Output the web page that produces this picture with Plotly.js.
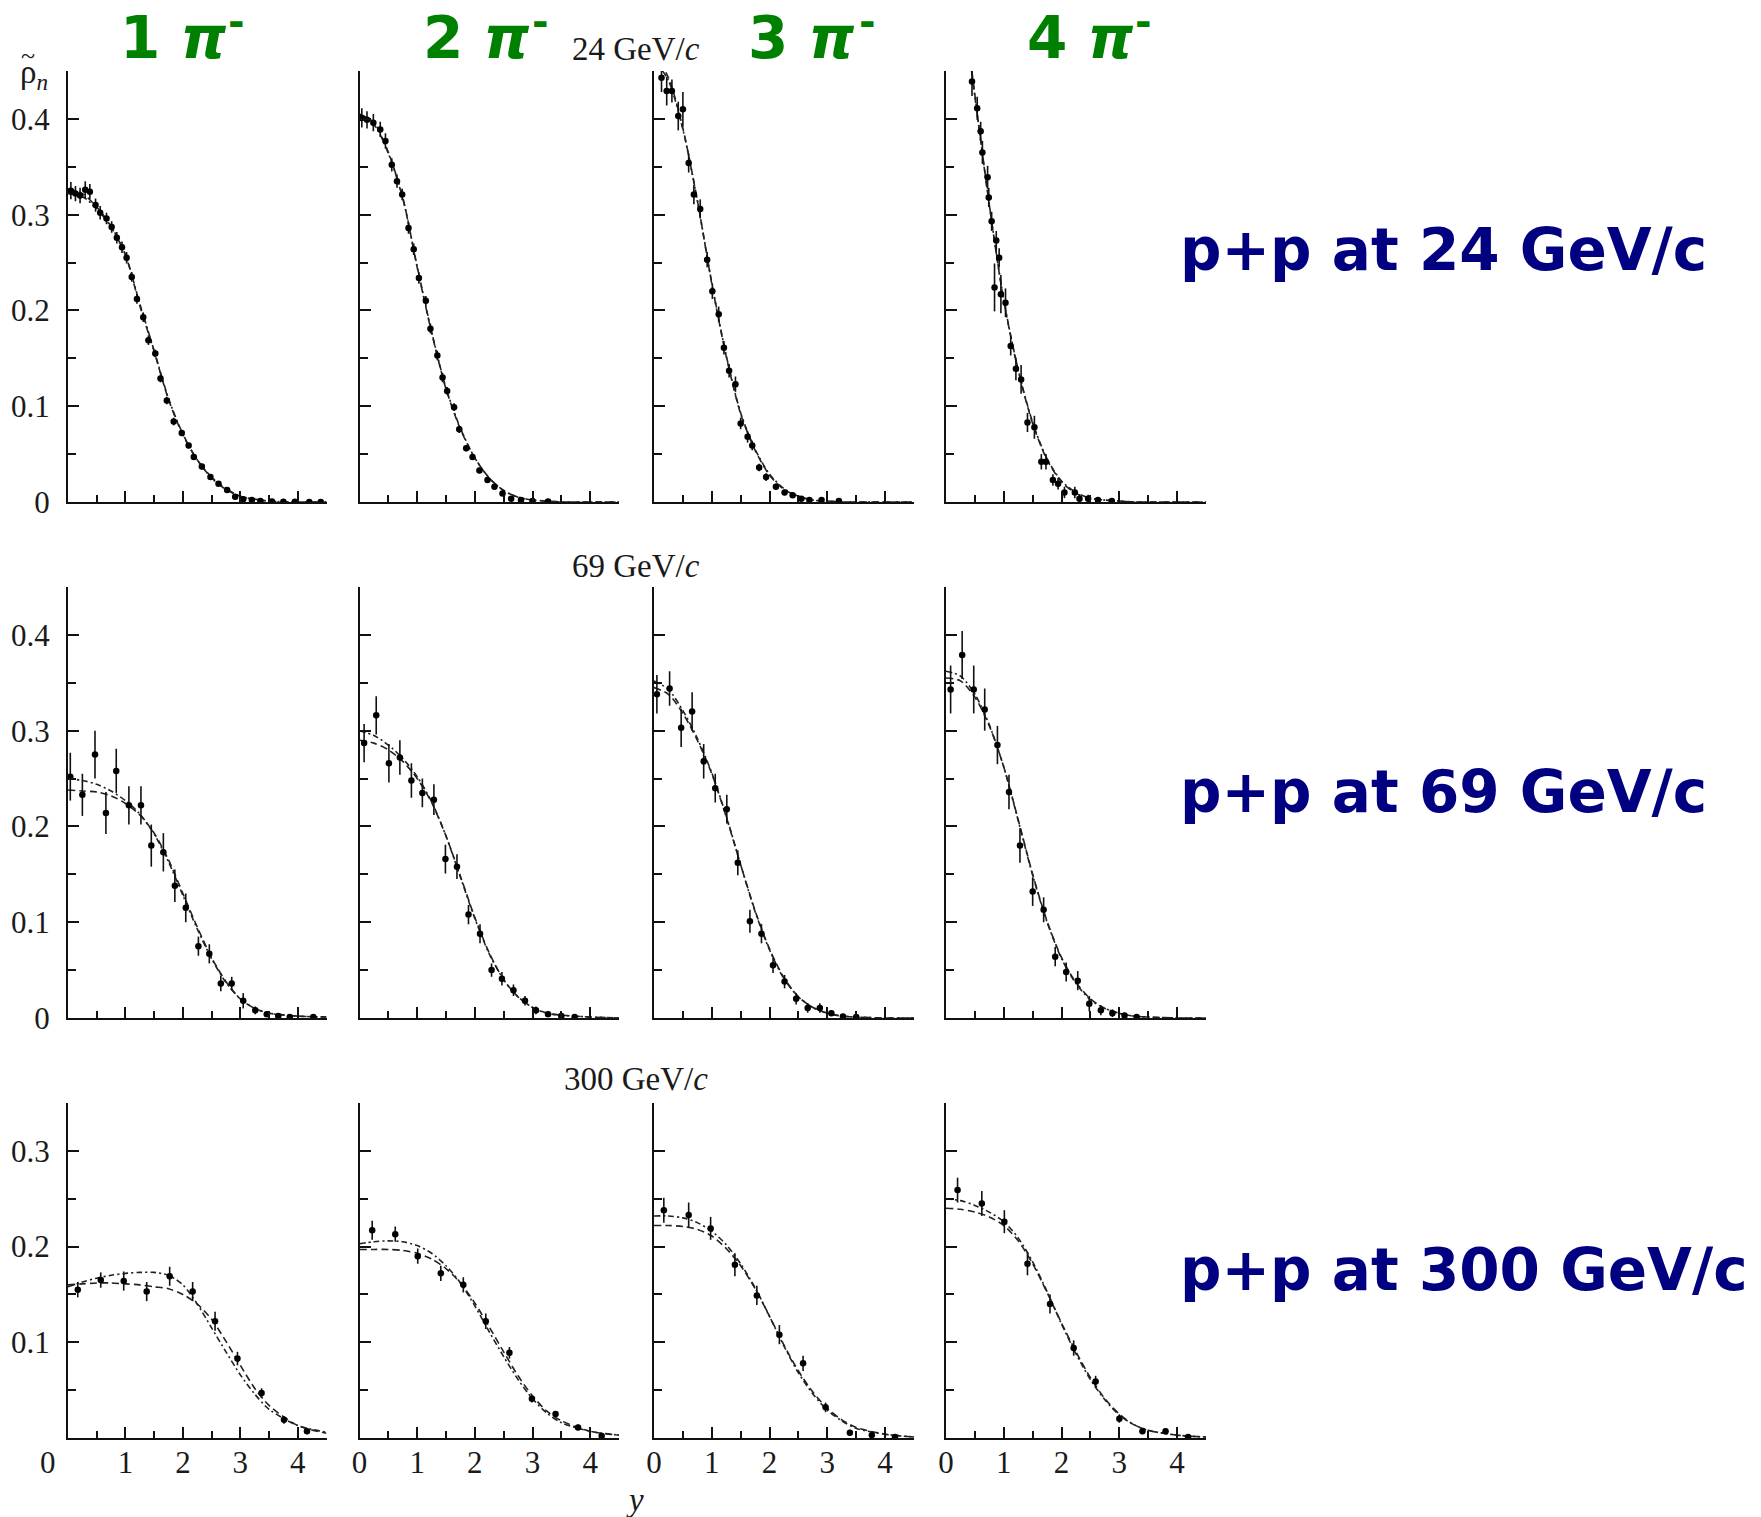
<!DOCTYPE html>
<html>
<head>
<meta charset="utf-8">
<script src="https://cdn.plot.ly/plotly-3.0.1.min.js"></script>
<style>html,body{margin:0;padding:0;background:#fff;} #chart{width:1761px;height:1517px;}</style>
</head>
<body>
<div id="chart"></div>
<script>
// ---------------- DATA ----------------
const columnLabels = ["1", "2", "3", "4"];
const beamLabels = ["24", "69", "300"];
const xTickVals = [0, 1, 2, 3, 4];
const xTickValsFirst = [1, 2, 3, 4];
const xMinorVals = [0.5, 1.5, 2.5, 3.5, 4.5];
const yTickVals = [0, 0.1, 0.2, 0.3, 0.4];
const yTickValsLow = [0.1, 0.2, 0.3];
const yMinorVals = [0.05, 0.15, 0.25, 0.35, 0.45];
const yMinorValsLow = [0.05, 0.15, 0.25, 0.35];

// model curves sampled on a rapidity grid
const curveX = [0, 0.25, 0.5, 0.75, 1, 1.25, 1.5, 1.75, 2, 2.25, 2.5, 2.75, 3, 3.25, 3.5, 4, 4.5];

// 24 GeV/c
const r1c1X = [0.05,0.13,0.21,0.30,0.38,0.48,0.56,0.67,0.76,0.85,0.94,1.02,1.11,1.20,1.31,1.40,1.52,1.61,1.72,1.84,1.98,2.10,2.19,2.33,2.48,2.62,2.77,2.91,3.05,3.20,3.35,3.55,3.75,3.95,4.20,4.40];
const r1c1Y = [0.325,0.322,0.320,0.326,0.324,0.310,0.302,0.296,0.287,0.276,0.266,0.255,0.235,0.212,0.193,0.169,0.155,0.129,0.106,0.084,0.072,0.059,0.047,0.037,0.026,0.019,0.0125,0.0055,0.003,0.002,0.001,0.0005,0.0003,0.0002,0.0001,0.0001];
const r1c1E = [0.009,0.008,0.008,0.009,0.008,0.007,0.007,0.006,0.006,0.006,0.006,0.006,0.005,0.005,0.005,0.005,0.004,0.004,0.004,0.004,0.003,0.003,0.003,0.003,0.002,0.002,0.002,0.002,0.001,0.001,0.001,0.001,0.001,0.001,0.001,0.001];
const r1c1Dash = [0.327,0.322,0.308,0.288,0.258,0.205,0.157,0.107,0.070,0.044,0.025,0.013,0.006,0.003,0.001,0,0];
const r1c1Dot  = [0.322,0.319,0.306,0.287,0.258,0.207,0.158,0.108,0.071,0.044,0.026,0.014,0.006,0.003,0.001,0,0];

const r1c2X = [0.04,0.13,0.24,0.36,0.45,0.56,0.65,0.74,0.85,0.94,1.03,1.15,1.23,1.35,1.44,1.52,1.64,1.73,1.85,1.96,2.08,2.22,2.34,2.48,2.63,2.80,3.00,3.27];
const r1c2Y = [0.401,0.399,0.396,0.389,0.377,0.352,0.335,0.321,0.286,0.264,0.234,0.210,0.181,0.153,0.130,0.116,0.099,0.076,0.056,0.047,0.033,0.023,0.016,0.009,0.0035,0.002,0.001,0.0005];
const r1c2E = [0.010,0.009,0.009,0.008,0.008,0.007,0.007,0.006,0.006,0.006,0.006,0.005,0.005,0.005,0.005,0.004,0.004,0.004,0.003,0.003,0.003,0.002,0.002,0.002,0.002,0.001,0.001,0.001];
const r1c2Dash = [0.405,0.396,0.365,0.318,0.245,0.177,0.118,0.076,0.046,0.025,0.012,0.005,0.002,0.001,0,0,0];
const r1c2Dot  = [0.402,0.394,0.364,0.317,0.246,0.178,0.119,0.077,0.046,0.025,0.012,0.005,0.002,0.001,0,0,0];

const r1c3X = [0.13,0.22,0.31,0.42,0.50,0.60,0.69,0.80,0.92,1.01,1.12,1.21,1.30,1.41,1.50,1.62,1.70,1.82,1.94,2.11,2.26,2.40,2.55,2.69,2.90,3.20];
const r1c3Y = [0.443,0.429,0.429,0.403,0.410,0.354,0.321,0.306,0.253,0.220,0.196,0.161,0.137,0.123,0.082,0.068,0.059,0.036,0.026,0.016,0.010,0.007,0.0035,0.002,0.002,0.001];
const r1c3E = [0.015,0.015,0.012,0.015,0.018,0.010,0.010,0.010,0.008,0.008,0.008,0.007,0.007,0.008,0.006,0.006,0.005,0.004,0.004,0.003,0.003,0.002,0.002,0.002,0.001,0.001];
const r1c3Dash = [0.468,0.443,0.390,0.315,0.228,0.152,0.092,0.054,0.028,0.013,0.006,0.002,0.001,0,0,0,0];
const r1c3Dot  = [0.462,0.440,0.389,0.315,0.229,0.153,0.093,0.055,0.029,0.014,0.006,0.002,0.001,0,0,0,0];

const r1c4X = [0.45,0.54,0.60,0.63,0.72,0.74,0.79,0.84,0.87,0.92,0.95,1.03,1.12,1.21,1.30,1.41,1.53,1.65,1.73,1.85,1.94,2.05,2.23,2.31,2.46,2.63,2.87];
const r1c4Y = [0.439,0.411,0.387,0.365,0.339,0.318,0.293,0.224,0.273,0.255,0.217,0.208,0.163,0.139,0.128,0.083,0.078,0.042,0.042,0.023,0.019,0.010,0.010,0.0035,0.0035,0.002,0.001];
const r1c4E = [0.015,0.012,0.010,0.012,0.012,0.010,0.010,0.025,0.010,0.010,0.020,0.015,0.010,0.012,0.015,0.010,0.012,0.008,0.008,0.006,0.006,0.006,0.006,0.004,0.004,0.003,0.002];
const r1c4Dash = [0.620,0.540,0.425,0.310,0.210,0.137,0.082,0.044,0.021,0.009,0.004,0.002,0.001,0,0,0,0];
const r1c4Dot  = [0.610,0.535,0.423,0.310,0.211,0.138,0.083,0.045,0.022,0.010,0.004,0.002,0.001,0,0,0,0];

// 69 GeV/c
const r2c1X = [0.04,0.25,0.47,0.66,0.84,1.06,1.27,1.45,1.66,1.86,2.05,2.27,2.46,2.66,2.85,3.05,3.26,3.46,3.66,3.86,4.27];
const r2c1Y = [0.252,0.233,0.275,0.214,0.258,0.222,0.222,0.180,0.173,0.138,0.115,0.075,0.067,0.036,0.036,0.018,0.008,0.004,0.002,0.001,0.001];
const r2c1E = [0.025,0.022,0.025,0.022,0.023,0.020,0.020,0.022,0.020,0.017,0.015,0.010,0.010,0.008,0.007,0.008,0.004,0.003,0.002,0.001,0.001];
const r2c1Dash = [0.238,0.237,0.236,0.232,0.224,0.212,0.193,0.165,0.130,0.095,0.063,0.038,0.020,0.010,0.005,0.002,0.001];
const r2c1Dot  = [0.250,0.248,0.244,0.237,0.227,0.213,0.192,0.163,0.128,0.093,0.062,0.037,0.020,0.010,0.005,0.002,0.001];

const r2c2X = [0.08,0.29,0.51,0.70,0.90,1.09,1.29,1.49,1.69,1.89,2.09,2.29,2.47,2.67,2.87,3.06,3.27,3.50,3.73];
const r2c2Y = [0.287,0.316,0.266,0.272,0.248,0.235,0.228,0.166,0.158,0.108,0.088,0.050,0.041,0.029,0.018,0.008,0.004,0.002,0.001];
const r2c2E = [0.020,0.020,0.020,0.018,0.018,0.015,0.016,0.015,0.013,0.010,0.010,0.007,0.007,0.006,0.005,0.004,0.003,0.002,0.001];
const r2c2Dash = [0.290,0.287,0.280,0.268,0.250,0.225,0.190,0.148,0.105,0.068,0.040,0.022,0.011,0.005,0.003,0.001,0];
const r2c2Dot  = [0.300,0.295,0.285,0.271,0.252,0.226,0.190,0.147,0.104,0.067,0.040,0.022,0.011,0.005,0.003,0.001,0];

const r2c3X = [0.05,0.27,0.47,0.66,0.86,1.06,1.26,1.45,1.66,1.86,2.06,2.26,2.46,2.66,2.87,3.07,3.27,3.50];
const r2c3Y = [0.338,0.344,0.303,0.320,0.268,0.240,0.218,0.162,0.101,0.088,0.055,0.038,0.020,0.0105,0.0105,0.005,0.0015,0.001];
const r2c3E = [0.020,0.018,0.020,0.020,0.018,0.015,0.015,0.013,0.012,0.010,0.008,0.007,0.006,0.005,0.005,0.003,0.002,0.001];
const r2c3Dash = [0.345,0.338,0.318,0.290,0.255,0.210,0.160,0.112,0.072,0.042,0.022,0.011,0.005,0.002,0.001,0,0];
const r2c3Dot  = [0.352,0.343,0.321,0.292,0.256,0.211,0.160,0.111,0.071,0.041,0.022,0.011,0.005,0.002,0.001,0,0];

const r2c4X = [0.08,0.28,0.48,0.67,0.89,1.09,1.28,1.50,1.69,1.89,2.08,2.28,2.48,2.68,2.88,3.09,3.30];
const r2c4Y = [0.343,0.379,0.343,0.322,0.285,0.236,0.180,0.132,0.113,0.064,0.048,0.039,0.015,0.008,0.005,0.0025,0.001];
const r2c4E = [0.025,0.025,0.025,0.022,0.020,0.018,0.018,0.015,0.013,0.010,0.010,0.010,0.008,0.005,0.004,0.003,0.002];
const r2c4Dash = [0.355,0.352,0.335,0.305,0.262,0.207,0.150,0.101,0.063,0.037,0.020,0.010,0.005,0.002,0.001,0,0];
const r2c4Dot  = [0.362,0.357,0.338,0.306,0.262,0.206,0.149,0.100,0.062,0.036,0.019,0.010,0.005,0.002,0.001,0,0];

// 300 GeV/c
const r3c1X = [0.17,0.57,0.97,1.37,1.77,2.17,2.56,2.95,3.37,3.76,4.16];
const r3c1Y = [0.155,0.165,0.164,0.153,0.169,0.153,0.122,0.083,0.047,0.019,0.007];
const r3c1E = [0.008,0.008,0.010,0.010,0.010,0.010,0.010,0.007,0.005,0.004,0.003];
const r3c1Dash = [0.160,0.161,0.162,0.162,0.161,0.160,0.158,0.156,0.150,0.140,0.124,0.101,0.076,0.052,0.034,0.013,0.005];
const r3c1Dot  = [0.158,0.163,0.167,0.170,0.172,0.173,0.173,0.170,0.160,0.140,0.115,0.090,0.066,0.046,0.030,0.013,0.006];

const r3c2X = [0.22,0.62,1.01,1.41,1.80,2.19,2.60,2.99,3.40,3.79,4.20];
const r3c2Y = [0.217,0.213,0.190,0.172,0.160,0.122,0.089,0.041,0.025,0.011,0.002];
const r3c2E = [0.010,0.008,0.008,0.008,0.008,0.008,0.006,0.004,0.003,0.003,0.002];
const r3c2Dash = [0.197,0.197,0.197,0.196,0.193,0.187,0.177,0.162,0.141,0.116,0.090,0.065,0.044,0.028,0.018,0.007,0.003];
const r3c2Dot  = [0.203,0.205,0.206,0.205,0.201,0.193,0.180,0.162,0.138,0.111,0.085,0.061,0.041,0.026,0.016,0.007,0.003];

const r3c3X = [0.17,0.60,0.98,1.40,1.78,2.17,2.58,2.97,3.39,3.77,4.17];
const r3c3Y = [0.238,0.233,0.219,0.181,0.149,0.108,0.078,0.032,0.0055,0.003,0.001];
const r3c3E = [0.013,0.013,0.012,0.012,0.010,0.010,0.008,0.005,0.003,0.002,0.001];
const r3c3Dash = [0.222,0.222,0.221,0.218,0.211,0.198,0.180,0.156,0.127,0.097,0.070,0.048,0.031,0.019,0.011,0.004,0.001];
const r3c3Dot  = [0.232,0.232,0.230,0.225,0.216,0.202,0.182,0.157,0.127,0.096,0.068,0.046,0.029,0.018,0.010,0.004,0.001];

const r3c4X = [0.20,0.62,1.01,1.41,1.80,2.21,2.59,3.00,3.40,3.80,4.19];
const r3c4Y = [0.259,0.245,0.226,0.182,0.140,0.094,0.059,0.020,0.007,0.007,0.001];
const r3c4E = [0.013,0.013,0.012,0.012,0.010,0.008,0.006,0.004,0.003,0.003,0.001];
const r3c4Dash = [0.240,0.239,0.236,0.231,0.222,0.206,0.182,0.152,0.120,0.090,0.063,0.041,0.025,0.014,0.008,0.003,0.001];
const r3c4Dot  = [0.250,0.248,0.243,0.236,0.226,0.209,0.184,0.153,0.119,0.088,0.061,0.040,0.024,0.014,0.008,0.003,0.001];

// ---------------- LAYOUT / BUILD ----------------
const W = 1761, H = 1517;
const colPx = [[68, 326.5], [359.5, 619], [654, 914], [946, 1206]];
const rowPx = [[71, 502], [587, 1018], [1103, 1438]];
const px = v => v / W;
const py = v => 1 - v / H;

const panels = [
  [[r1c1X,r1c1Y,r1c1E,r1c1Dash,r1c1Dot],[r1c2X,r1c2Y,r1c2E,r1c2Dash,r1c2Dot],[r1c3X,r1c3Y,r1c3E,r1c3Dash,r1c3Dot],[r1c4X,r1c4Y,r1c4E,r1c4Dash,r1c4Dot]],
  [[r2c1X,r2c1Y,r2c1E,r2c1Dash,r2c1Dot],[r2c2X,r2c2Y,r2c2E,r2c2Dash,r2c2Dot],[r2c3X,r2c3Y,r2c3E,r2c3Dash,r2c3Dot],[r2c4X,r2c4Y,r2c4E,r2c4Dash,r2c4Dot]],
  [[r3c1X,r3c1Y,r3c1E,r3c1Dash,r3c1Dot],[r3c2X,r3c2Y,r3c2E,r3c2Dash,r3c2Dot],[r3c3X,r3c3Y,r3c3E,r3c3Dash,r3c3Dot],[r3c4X,r3c4Y,r3c4E,r3c4Dash,r3c4Dot]]
];

const serif = "Liberation Serif, Times New Roman, serif";
const tickFont = {family: serif, size: 31, color: "#1a1a1a"};
const traces = [];
const layout = {
  width: W, height: H,
  margin: {l: 0, r: 0, t: 0, b: 0},
  paper_bgcolor: "#fff", plot_bgcolor: "#fff",
  showlegend: false,
  annotations: []
};

let idx = 0;
for (let r = 0; r < 3; r++) {
  for (let c = 0; c < 4; c++) {
    idx++;
    const xa = "x" + (idx === 1 ? "" : idx), ya = "y" + (idx === 1 ? "" : idx);
    const xk = "xaxis" + (idx === 1 ? "" : idx), yk = "yaxis" + (idx === 1 ? "" : idx);
    const [dx, dy, de, dDash, dDot] = panels[r][c];
    traces.push({x: curveX, y: dDash, xaxis: xa, yaxis: ya, mode: "lines",
      line: {color: "#222", width: 1.6, dash: "7px,4px", shape: "spline", smoothing: 0.8}, hoverinfo: "skip"});
    traces.push({x: curveX, y: dDot, xaxis: xa, yaxis: ya, mode: "lines",
      line: {color: "#222", width: 1.6, dash: "6px,3px,2px,3px", shape: "spline", smoothing: 0.8}, hoverinfo: "skip"});
    traces.push({x: dx, y: dy, xaxis: xa, yaxis: ya, mode: "markers",
      marker: {color: "#000", size: 6.5},
      error_y: {type: "data", array: de, visible: true, color: "#111", thickness: 1.6, width: 0}});

    const lowRow = (r === 2);
    const xv = (lowRow && c === 0) ? xTickValsFirst : xTickVals;
    layout[xk] = {
      domain: [px(colPx[c][0]), px(colPx[c][1])], anchor: ya,
      range: [0, 4.5], tickmode: "array", tickvals: xv, ticktext: xv.map(String),
      ticks: "inside", ticklen: 11, tickwidth: 2, tickcolor: "#111",
      minor: {tickmode: "array", tickvals: xMinorVals, ticks: "inside", ticklen: 7, tickwidth: 2, tickcolor: "#111"},
      showline: true, linewidth: 2, linecolor: "#111",
      showgrid: false, zeroline: false, fixedrange: true,
      showticklabels: lowRow, tickfont: tickFont, ticklabelstandoff: -4
    };
    const yv = lowRow ? yTickValsLow : yTickVals;
    layout[yk] = {
      domain: [py(rowPx[r][1]), py(rowPx[r][0])], anchor: xa,
      range: [0, lowRow ? 0.35 : 0.45], tickmode: "array", tickvals: yv, ticktext: yv.map(v => v === 0 ? "0" : v.toFixed(1)),
      ticks: "inside", ticklen: 11, tickwidth: 2, tickcolor: "#111",
      minor: {tickmode: "array", tickvals: lowRow ? yMinorValsLow : yMinorVals, ticks: "inside", ticklen: 8, tickwidth: 2, tickcolor: "#111"},
      showline: true, linewidth: 2, linecolor: "#111",
      showgrid: false, zeroline: false, fixedrange: true,
      showticklabels: c === 0, tickfont: tickFont, ticklabelstandoff: 10
    };
  }
}

function ann(text, x, y, font, xanchor) {
  layout.annotations.push({text: text, x: px(x), y: py(y), xref: "paper", yref: "paper",
    xanchor: xanchor || "center", yanchor: "middle", showarrow: false, font: font});
}

// column headers ("n π" plus a raised minus sign)
const headFont = {family: "DejaVu Sans, sans-serif", size: 58, color: "#008000"};
const minusFont = {family: "DejaVu Sans, sans-serif", size: 40, color: "#008000"};
const headX = [173, 476, 801, 1080];
const minusX = [236, 540, 867, 1143];
columnLabels.forEach((t, i) => {
  ann("<b>" + t + " <i>π</i></b>", headX[i], 38, headFont);
  ann("<b>-</b>", minusX[i], 22, minusFont);
});

// right-side reaction labels
const sideFont = {family: "DejaVu Sans, sans-serif", size: 58, color: "#000080"};
const sideY = [250, 792, 1270];
beamLabels.forEach((b, i) => ann("<b>p+p at " + b + " GeV/c</b>", 1178, sideY[i], sideFont, "left"));

// energy labels in the plot
const labFont = {family: serif, size: 33, color: "#1a1a1a"};
const energyY = [49, 566, 1079];
beamLabels.forEach((b, i) => ann(b + " GeV/<i>c</i>", 636, energyY[i], labFont));

ann("<i>y</i>", 635, 1500, labFont);
// axis symbol rho-tilde with subscript n
ann("ρ<sub><i>n</i></sub>", 18, 74, {family: serif, size: 33, color: "#1a1a1a"}, "left");
ann("~", 28, 55, {family: serif, size: 26, color: "#1a1a1a"});
ann("0", 48, 1462, tickFont);

Plotly.newPlot("chart", traces, layout, {staticPlot: true, displayModeBar: false});
</script>
</body>
</html>
